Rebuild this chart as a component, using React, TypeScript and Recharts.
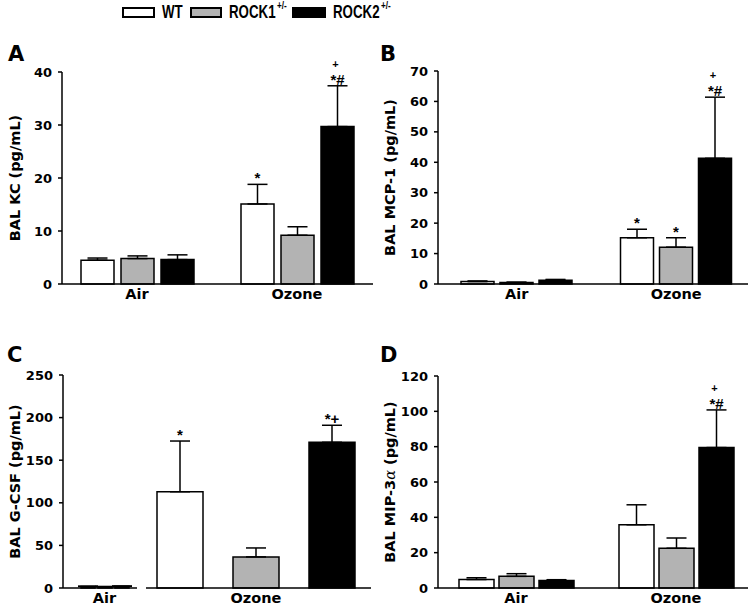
import React from "react";
import { Bar, BarChart, ErrorBar, LabelList, XAxis, YAxis } from "recharts";

const GROUPS = ["Air", "Ozone"];
const SERIES = ["WT", "ROCK1", "ROCK2"];
const SUPERSCRIPTS = ["", "+/-", "+/-"];
const FILLS = ["#ffffff", "#b3b3b3", "#000000"];

// rows = Air, Ozone; columns = WT, ROCK1, ROCK2
const KC_MEAN = [[4.5, 4.8, 4.6], [15.1, 9.2, 29.7]];
const KC_SEM = [[0.4, 0.5, 0.9], [3.7, 1.6, 7.7]];
const KC_NOTES = [["", "", ""], ["*", "", "+\n*#"]];
const KC_TICKS = [0, 10, 20, 30, 40];

const MCP_MEAN = [[0.8, 0.5, 1.2], [15.2, 12.1, 41.3]];
const MCP_SEM = [[0.2, 0.1, 0.3], [2.8, 3.1, 20.1]];
const MCP_NOTES = [["", "", ""], ["*", "*", "+\n*#"]];
const MCP_TICKS = [0, 10, 20, 30, 40, 50, 60, 70];

const GCSF_MEAN = [[1.8, 1.5, 2.0], [113, 36.5, 171]];
const GCSF_SEM = [[0.3, 0.3, 0.3], [59.5, 10.5, 20]];
const GCSF_NOTES = [["", "", ""], ["*", "", "*+"]];
const GCSF_TICKS = [0, 50, 100, 150, 200, 250];

const MIP_MEAN = [[4.8, 6.6, 4.2], [35.8, 22.5, 79.5]];
const MIP_SEM = [[1.0, 1.5, 0.5], [11.3, 5.8, 21.3]];
const MIP_NOTES = [["", "", ""], ["", "", "+\n*#"]];
const MIP_TICKS = [0, 20, 40, 60, 80, 100, 120];

const AXIS_FONT = "'DejaVu Sans', Arial, sans-serif";
const NOTE_FONT = "'Liberation Sans', Arial, sans-serif";
const LEGEND_FONT = "'Liberation Sans', Arial, sans-serif";

function buildRows(groups: string[], mean: number[][], sem: number[][], notes: string[][]) {
  return groups.map((g, gi) => {
    const row: any = { group: g };
    SERIES.forEach((s, si) => {
      row[s] = mean[gi][si];
      row[s + "Err"] = [0, sem[gi][si]];
      row[s + "Note"] = { text: notes[gi][si], sem: sem[gi][si], mean: mean[gi][si] };
    });
    return row;
  });
}

// significance marks sit just above the upper error cap
function Note(props: any) {
  const v = props.value;
  if (!v || !v.text) return null;
  const vb = props.viewBox ?? props;
  const { x, y, width, height } = vb;
  const top = y - (v.sem / v.mean) * Math.abs(height);
  const cx = x + width / 2;
  const lines: string[] = v.text.split("\n");
  const step = 17;
  const baseY = top - 1 - (lines.length - 1) * step;
  return (
    <text
      x={cx}
      y={baseY}
      textAnchor="middle"
      fontFamily={NOTE_FONT}
      fontWeight="bold"
      fontSize={15}
      fill="#000"
    >
      {lines.map((ln, i) => {
        const plus = ln === "+";
        return (
          <tspan
            key={i}
            x={cx + (plus ? -2 : 0)}
            dy={i === 0 ? 0 : step}
            fontSize={plus ? 11 : 15}
          >
            {ln}
          </tspan>
        );
      })}
    </text>
  );
}

type PanelProps = {
  rows: any[];
  left: number;
  top: number;
  width: number;
  height: number;
  margin: { top: number; right: number; bottom: number; left: number };
  yMax: number;
  ticks: number[];
  yLabel?: React.ReactNode;
  yWidth: number;
  hideY?: boolean;
  barSize: number;
  barGap: number;
  pad: { left: number; right: number };
};

function Panel(p: PanelProps) {
  const yLabel = (lp: any) => {
    const vb = lp.viewBox;
    const cx = 15;
    const cy = vb.y + vb.height / 2;
    return (
      <text
        x={cx}
        y={cy}
        transform={`rotate(-90 ${cx} ${cy})`}
        textAnchor="middle"
        dominantBaseline="central"
        fontFamily={AXIS_FONT}
        fontWeight="bold"
        fontSize={14.5}
        fill="#000"
      >
        {p.yLabel}
      </text>
    );
  };
  return (
    <div style={{ position: "absolute", left: p.left, top: p.top }}>
      <BarChart
        width={p.width}
        height={p.height}
        data={p.rows}
        margin={p.margin}
        barSize={p.barSize}
        barGap={p.barGap}
      >
        <XAxis
          dataKey="group"
          tickLine={false}
          tickSize={0}
          tickMargin={5}
          height={20}
          padding={p.pad}
          axisLine={{ stroke: "#000", strokeWidth: 1.5 }}
          tick={{ fill: "#000", fontFamily: AXIS_FONT, fontWeight: "bold", fontSize: 14.5 }}
        />
        <YAxis
          hide={p.hideY}
          width={p.yWidth}
          domain={[0, p.yMax]}
          ticks={p.ticks}
          interval={0}
          tickSize={4}
          tickMargin={6}
          axisLine={{ stroke: "#000", strokeWidth: 1.5 }}
          tickLine={{ stroke: "#000", strokeWidth: 1.5 }}
          tick={{ fill: "#000", fontFamily: AXIS_FONT, fontWeight: "bold", fontSize: 13 }}
          label={p.yLabel ? yLabel : undefined}
        />
        {SERIES.map((s, si) => (
          <Bar
            key={s}
            dataKey={s}
            fill={FILLS[si]}
            stroke="#000"
            strokeWidth={1.5}
            isAnimationActive={false}
          >
            <ErrorBar dataKey={s + "Err"} direction="y" width={10} stroke="#000" strokeWidth={1.5} />
            <LabelList dataKey={s + "Note"} content={Note} />
          </Bar>
        ))}
      </BarChart>
    </div>
  );
}

function Overlay() {
  const boxes = [
    { x: 123, w: 31, tx: 162 },
    { x: 191, w: 30, tx: 229 },
    { x: 293, w: 32, tx: 333 },
  ];
  const letter = (t: string, x: number, y: number) => (
    <text x={x} y={y} fontFamily={AXIS_FONT} fontWeight="bold" fontSize={21} fill="#000">
      {t}
    </text>
  );
  return (
    <svg
      width={750}
      height={609}
      style={{ position: "absolute", left: 0, top: 0, pointerEvents: "none" }}
    >
      {SERIES.map((s, i) => {
        const b = boxes[i];
        return (
          <g key={s}>
            <rect x={b.x} y={8} width={b.w} height={9} fill={FILLS[i]} stroke="#000" strokeWidth={2} />
            <text
              transform={`translate(${b.tx} 18) scale(0.74 1)`}
              x={0}
              y={0}
              fontFamily={LEGEND_FONT}
              fontWeight="bold"
              fontSize={18}
              fill="#000"
            >
              {s}
              {SUPERSCRIPTS[i] && (
                <tspan dx={2} dy={-9} fontSize={11}>
                  {SUPERSCRIPTS[i]}
                </tspan>
              )}
            </text>
          </g>
        );
      })}
      {letter("A", 8, 61)}
      {letter("B", 380, 61)}
      {letter("C", 7, 362)}
      {letter("D", 380, 362)}
    </svg>
  );
}

export default function App() {
  const kcRows = buildRows(GROUPS, KC_MEAN, KC_SEM, KC_NOTES);
  const mcpRows = buildRows(GROUPS, MCP_MEAN, MCP_SEM, MCP_NOTES);
  const gcsfAir = buildRows([GROUPS[0]], [GCSF_MEAN[0]], [GCSF_SEM[0]], [GCSF_NOTES[0]]);
  const gcsfOzone = buildRows([GROUPS[1]], [GCSF_MEAN[1]], [GCSF_SEM[1]], [GCSF_NOTES[1]]);
  const mipRows = buildRows(GROUPS, MIP_MEAN, MIP_SEM, MIP_NOTES);

  return (
    <div
      style={{
        position: "absolute",
        left: 0,
        top: 0,
        width: 750,
        height: 609,
        background: "#fff",
        overflow: "hidden",
      }}
    >
      <Panel
        rows={kcRows}
        left={0}
        top={40}
        width={375}
        height={270}
        margin={{ top: 32, right: 2, bottom: 6, left: 0 }}
        yMax={40}
        ticks={KC_TICKS}
        yLabel="BAL KC (pg/mL)"
        yWidth={62}
        barSize={33}
        barGap={7}
        pad={{ left: -5, right: -4 }}
      />
      <Panel
        rows={mcpRows}
        left={375}
        top={40}
        width={375}
        height={270}
        margin={{ top: 31, right: 2, bottom: 6, left: 0 }}
        yMax={70}
        ticks={MCP_TICKS}
        yLabel="BAL MCP-1 (pg/mL)"
        yWidth={63}
        barSize={33}
        barGap={6}
        pad={{ left: -1, right: -8 }}
      />
      <Panel
        rows={gcsfAir}
        left={0}
        top={310}
        width={137}
        height={299}
        margin={{ top: 65, right: 0, bottom: 1, left: 0 }}
        yMax={250}
        ticks={GCSF_TICKS}
        yLabel="BAL G-CSF (pg/mL)"
        yWidth={63}
        barSize={14}
        barGap={3}
        pad={{ left: 9, right: 0 }}
      />
      <Panel
        rows={gcsfOzone}
        left={146}
        top={310}
        width={227}
        height={299}
        margin={{ top: 65, right: 2, bottom: 1, left: 0 }}
        yMax={250}
        ticks={GCSF_TICKS}
        yWidth={0}
        hideY
        barSize={46}
        barGap={30}
        pad={{ left: 0, right: 5 }}
      />
      <Panel
        rows={mipRows}
        left={375}
        top={310}
        width={375}
        height={299}
        margin={{ top: 66, right: 2, bottom: 1, left: 0 }}
        yMax={120}
        ticks={MIP_TICKS}
        yLabel={
          <>
            BAL MIP-3
            <tspan fontFamily="'DejaVu Serif', serif" fontStyle="italic" fontWeight="normal">
              α
            </tspan>{" "}
            (pg/mL)
          </>
        }
        yWidth={63}
        barSize={35}
        barGap={5}
        pad={{ left: -2, right: -8 }}
      />
      <Overlay />
    </div>
  );
}
